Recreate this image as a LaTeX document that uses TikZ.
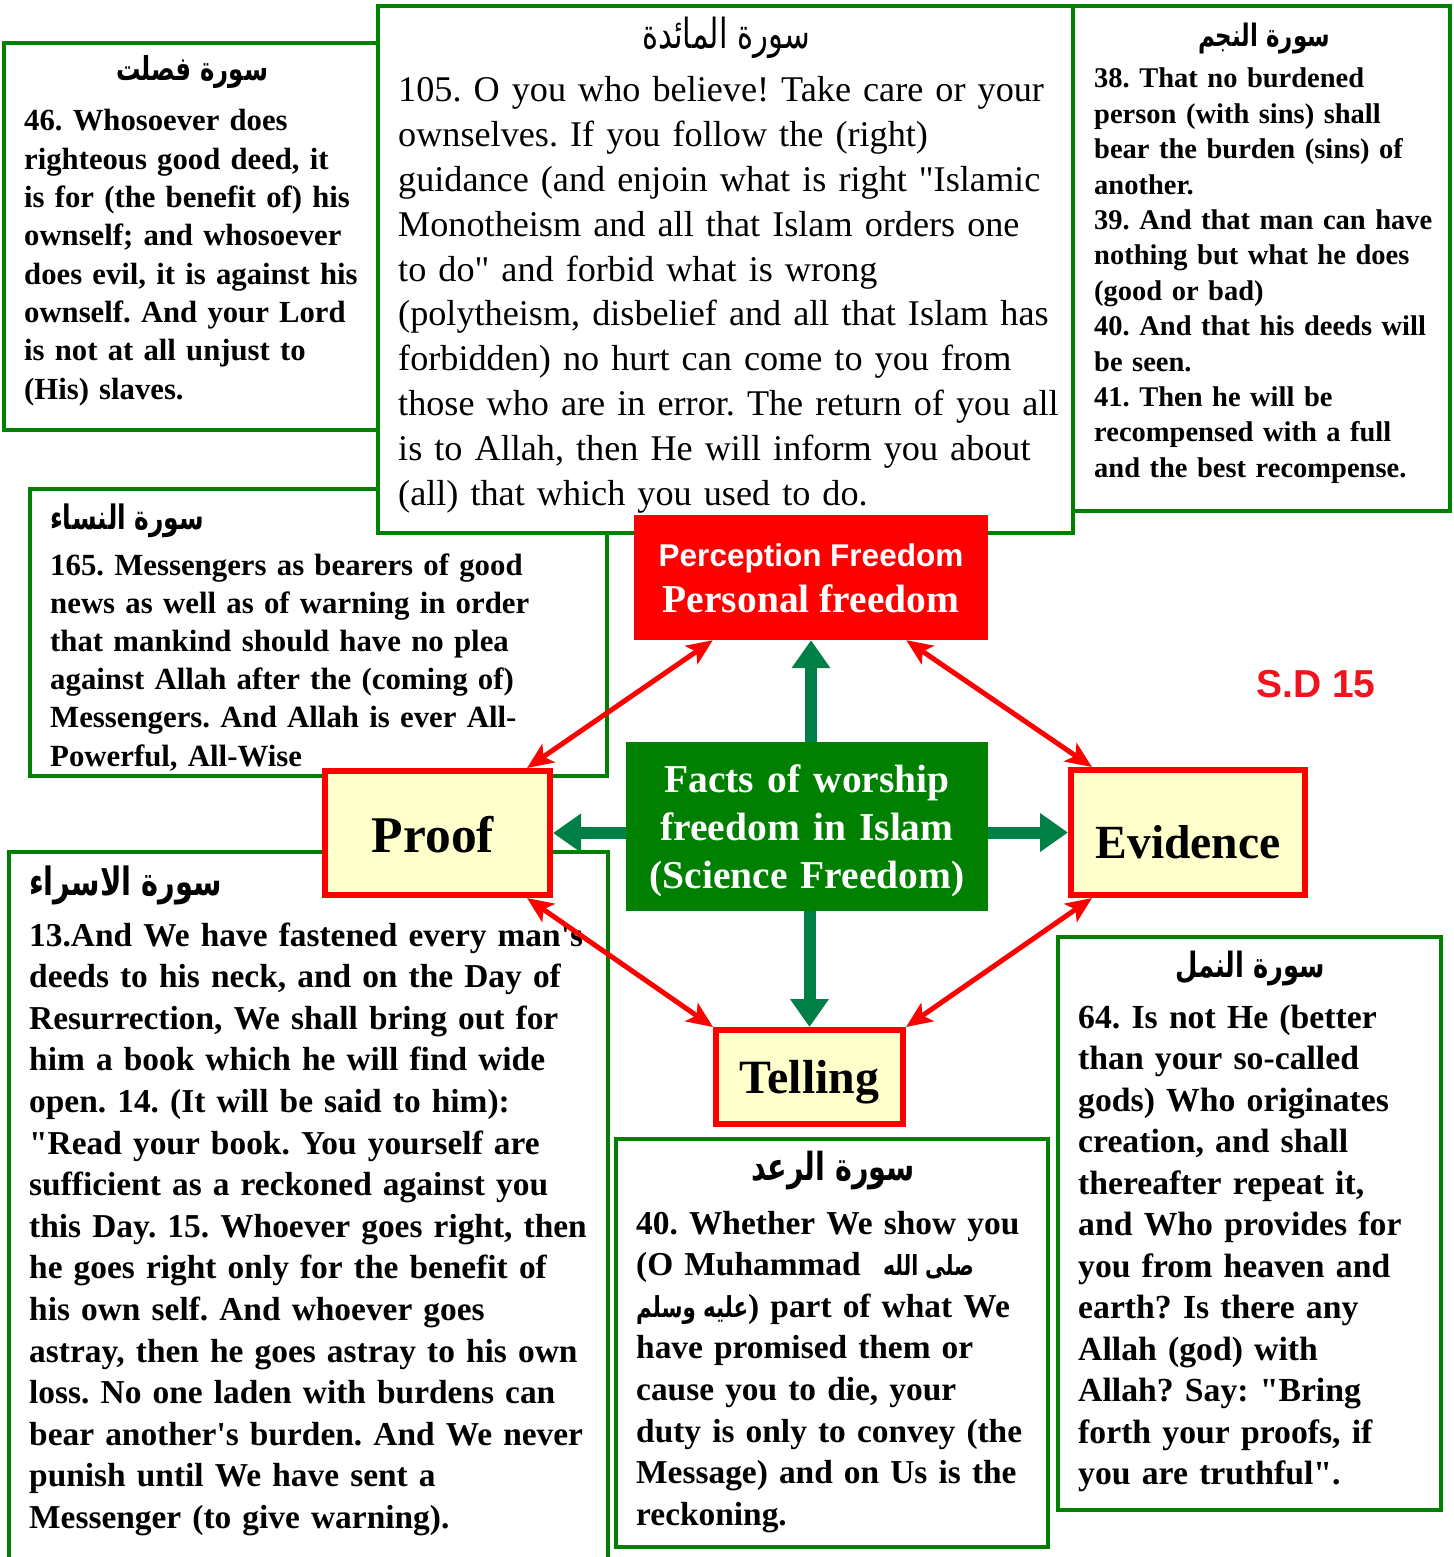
\documentclass[tikz,border=0pt]{standalone}
\usepackage{graphicx}
\usepackage{fontspec}
\setmainfont{Liberation Serif}[Ligatures=TeXOff]
\newfontfamily\arialf{Liberation Sans}[Ligatures=TeXOff]
\newfontfamily\arabicfont[Script=Arabic]{DejaVu Sans}
\TeXXeTstate=1
\usetikzlibrary{arrows.meta}
\newcommand\fsz[2]{\fontsize{#1}{#2}\selectfont}
\newcommand\artitle[2]{\resizebox{#1}{!}{\scalebox{1}[1.35]{#2}}}
\definecolor{gfr}{RGB}{0,128,0}
\definecolor{gar}{RGB}{0,128,70}
\definecolor{ylw}{RGB}{255,255,204}
\definecolor{sdred}{RGB}{240,20,30}
\begin{document}
\frenchspacing
\begin{tikzpicture}[x=1pt,y=-1pt,
  gframe/.style={draw=gfr, line width=3.5pt, fill=white},
  body/.style={anchor=base west, inner sep=0pt, text width=900pt, align=left},
  ttl/.style={anchor=base, inner sep=0pt, font=\arabicfont\bfseries\fsz{30}{30}},
  ttlr/.style={anchor=base, inner sep=0pt, font=\arabicfont\fsz{30}{30}},
  cbox/.style={draw=red, line width=6pt, fill=ylw, inner sep=0pt, text depth=0pt},
  redarr/.style={draw=red, line width=5pt, {Stealth[length=26pt,width=22pt,inset=6pt]}-{Stealth[length=26pt,width=22pt,inset=6pt]}},
  grnarr/.style={draw=gar, line width=12pt, -{Triangle[length=28pt,width=37pt]}}
]
\useasboundingbox (0,0) rectangle (1453,1557);
\fill[white] (0,0) rectangle (1453,1557);

% ---- Fusselat
\draw[gframe] (4,43) rectangle (379,430);
\node[ttl] (fusT) at (192,81) {\artitle{152pt}{\beginR سورة فصلت\endR}};
\node[body, font=\bfseries\fsz{30.7}{38.3}] (fusX) at (24,131) {46. Whosoever does\\
righteous good deed, it\\
is for (the benefit of) his\\
ownself; and whosoever\\
does evil, it is against his\\
ownself. And your Lord\\
is not at all unjust to\\
(His) slaves.};

% ---- Nisa
\draw[gframe] (30,489) rectangle (607,776);
\node[ttl, anchor=base west] (nisT) at (50,529) {\artitle{154pt}{\beginR سورة النساء\endR}};
\node[body, font=\bfseries\fsz{30.8}{38.2}] (nisX) at (50,575) {165. Messengers as bearers of good\\
news as well as of warning in order\\
that mankind should have no plea\\
against Allah after the (coming of)\\
Messengers. And Allah is ever All-\\
Powerful, All-Wise};

% ---- Isra
\draw[gframe] (9,852) rectangle (608,1580);
\node[ttl, anchor=base west] (isrT) at (29,895) {\artitle{193pt}{\beginR سورة الاسراء\endR}};
\node[body, font=\bfseries\fsz{33.4}{41.6}] (isrX) at (29,946) {13.And We have fastened every man's\\
deeds to his neck, and on the Day of\\
Resurrection, We shall bring out for\\
him a book which he will find wide\\
open. 14. (It will be said to him):\\
"Read your book. You yourself are\\
sufficient as a reckoned against you\\
this Day. 15. Whoever goes right, then\\
he goes right only for the benefit of\\
his own self. And whoever goes\\
astray, then he goes astray to his own\\
loss. No one laden with burdens can\\
bear another's burden. And We never\\
punish until We have sent a\\
Messenger (to give warning).};

% ---- Maidah
\draw[gframe] (378,6) rectangle (1073,533);
\node[ttlr] (maiT) at (726,49) {\artitle{168pt}{\beginR سورة المائدة\endR}};
\node[body, font=\fsz{36.2}{44.8}] (maiX) at (398,102) {105. O you who believe! Take care or your\\
ownselves. If you follow the (right)\\
guidance (and enjoin what is right "Islamic\\
Monotheism and all that Islam orders one\\
to do" and forbid what is wrong\\
(polytheism, disbelief and all that Islam has\\
forbidden) no hurt can come to you from\\
those who are in error. The return of you all\\
is to Allah, then He will inform you about\\
(all) that which you used to do.};

% ---- Najm
\draw[gframe] (1073,6) rectangle (1450,511);
\node[ttl] (najT) at (1264,47) {\artitle{132pt}{\beginR سورة النجم\endR}};
\node[body, font=\bfseries\fsz{28.5}{35.4}] (najX) at (1094,88) {38. That no burdened\\
person (with sins) shall\\
bear the burden (sins) of\\
another.\\
39. And that man can have\\
nothing but what he does\\
(good or bad)\\
40. And that his deeds will\\
be seen.\\
41. Then he will be\\
recompensed with a full\\
and the best recompense.};

% ---- Naml
\draw[gframe] (1058,937) rectangle (1441,1510);
\node[ttl] (namT) at (1250,977) {\artitle{150pt}{\beginR سورة النمل\endR}};
\node[body, font=\bfseries\fsz{33.7}{41.5}] (namX) at (1078,1028) {64. Is not He (better\\
than your so-called\\
gods) Who originates\\
creation, and shall\\
thereafter repeat it,\\
and Who provides for\\
you from heaven and\\
earth? Is there any\\
Allah (god) with\\
Allah? Say: "Bring\\
forth your proofs, if\\
you are truthful".};

% ---- Ra'd
\draw[gframe] (616,1139) rectangle (1048,1547);
\node[ttl] (radT) at (833,1180) {\artitle{164pt}{\beginR سورة الرعد\endR}};
\node[body, font=\bfseries\fsz{33.4}{41.6}] (radX) at (636,1234) {40. Whether We show you\\
(O Muhammad\ \ {\arabicfont\bfseries\artitle{91pt}{\beginR صلى الله\endR}}\\
{\arabicfont\bfseries\artitle{112pt}{\beginR عليه وسلم\endR}}) part of what We\\
have promised them or\\
cause you to die, your\\
duty is only to convey (the\\
Message) and on Us is the\\
reckoning.};

% ---- central boxes
\node[fill=red, minimum width=354pt, minimum height=125pt, inner sep=0pt] (perc) at (811,577.5) {};
\node[anchor=base, inner sep=0pt, text=white, font=\arialf\bfseries\fsz{31.5}{32}] (percA) at (811,566) {Perception Freedom};
\node[anchor=base, inner sep=0pt, text=white, font=\bfseries\fsz{39.5}{40}] (percB) at (811,612) {Personal freedom};

\node[fill=gfr, minimum width=362pt, minimum height=169pt, inner sep=0pt] (facts) at (807,826.5) {};
\node[anchor=base, inner sep=0pt, text width=420pt, align=center, text=white, font=\bfseries\fsz{39.5}{48}] (factsT) at (807,792) {Facts of worship\\freedom in Islam\\(Science Freedom)};

\node[cbox, minimum width=225pt, minimum height=124pt, text height=39pt, font=\bfseries\fsz{51.5}{52}] (proof) at (437.5,833) {\hspace*{-9pt}Proof};
\node[cbox, minimum width=234pt, minimum height=125pt, text height=51pt, font=\bfseries\fsz{47.6}{48}] (evid) at (1188,832.5) {Evidence};
\node[cbox, minimum width=187pt, minimum height=94pt, text height=32pt, font=\bfseries\fsz{47.8}{48}] (tell) at (809.5,1077) {Telling};

\node[anchor=base, inner sep=0pt, text=sdred, font=\arialf\bfseries\fsz{39}{39}] (sd) at (1316,697) {S.D 15};

% ---- connectors
\draw[grnarr] (perc.south |- facts.north) -- (perc.south);
\draw[grnarr] (proof.east -| facts.west) -- (proof.east);
\draw[grnarr] (evid.west -| facts.east) -- (evid.west);
\draw[grnarr] (tell.north |- facts.south) -- (tell.north);

\draw[redarr] ([xshift=-26pt]proof.north east) -- ([xshift=79pt]perc.south west);
\draw[redarr] ([xshift=-82pt]perc.south east) -- ([xshift=24pt]evid.north west);
\draw[redarr] ([xshift=-26pt]proof.south east) -- (tell.north west);
\draw[redarr] (tell.north east) -- ([xshift=24pt]evid.south west);
\end{tikzpicture}
\end{document}
